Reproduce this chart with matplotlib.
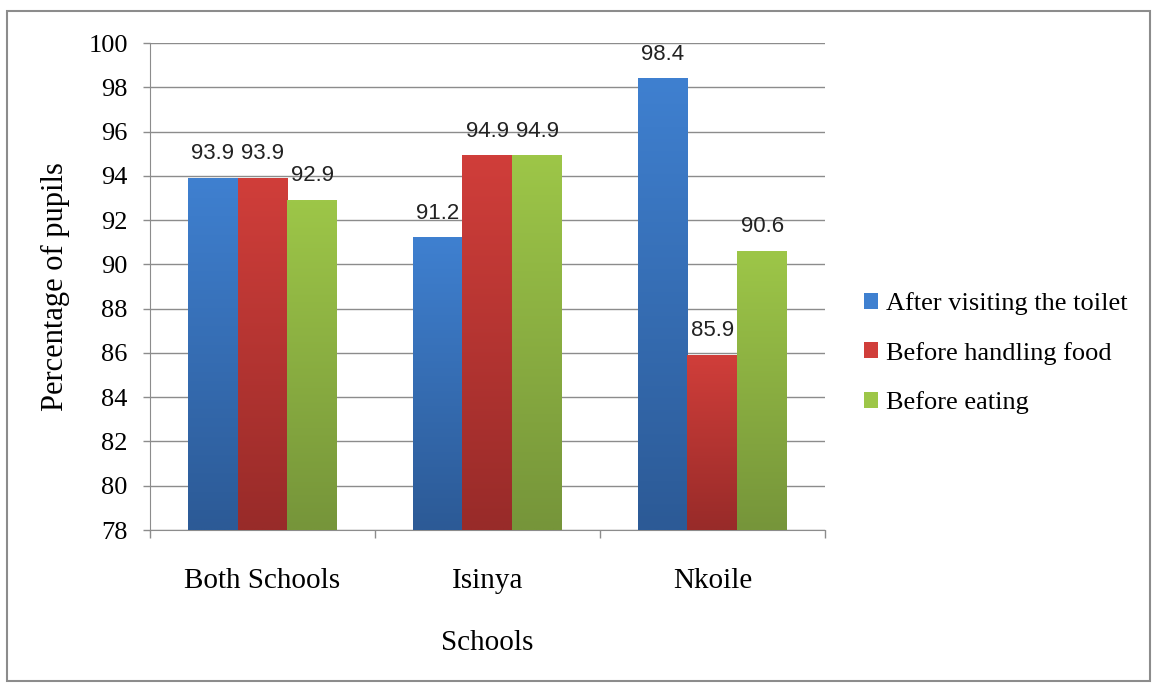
import matplotlib.pyplot as plt
import matplotlib.colors as mcolors
from matplotlib.patches import Rectangle
import numpy as np

# data
schools = ['Both Schools', 'Isinya', 'Nkoile']
series = ['After visiting the toilet', 'Before handling food', 'Before eating']
after_toilet = [93.9, 91.2, 98.4]
before_food = [93.9, 94.9, 85.9]
before_eating = [92.9, 94.9, 90.6]

# gradient colours (top, bottom) per series
top_colors = ['#3F80D0', '#D03E3A', '#9DC648']
bottom_colors = ['#2C5A96', '#982B29', '#76953A']

plt.rcParams['font.family'] = ['Liberation Serif', 'DejaVu Serif']

fig = plt.figure(figsize=(11.52, 6.83), dpi=100)
ax = fig.add_axes([0.1302, 0.224, 0.5859, 0.713])

# outer chart border
fig.patches.append(Rectangle((0.006, 0.003), 0.992, 0.981, transform=fig.transFigure,
                             fill=False, edgecolor='#8C8C8C', linewidth=1.5))

ymin = 78
width = 0.222
x = np.arange(len(schools))
values = [after_toilet, before_food, before_eating]


def gradient_bar(ax, rect, c_top, c_bot):
    x0, y0 = rect.get_x(), rect.get_y()
    w, h = rect.get_width(), rect.get_height()
    t = np.array(mcolors.to_rgb(c_top))
    b = np.array(mcolors.to_rgb(c_bot))
    f = np.linspace(0, 1, 100)[:, None]
    img = (t * (1 - f) + b * f)[:, None, :]
    ax.imshow(img, extent=[x0, x0 + w, y0, y0 + h], aspect='auto',
              origin='upper', zorder=3, interpolation='bilinear')


handles = []
for i, vals in enumerate(values):
    heights = [v - ymin for v in vals]
    bars = ax.bar(x + (i - 1) * width, heights, width, bottom=ymin,
                  color=top_colors[i], label=series[i], zorder=2)
    handles.append(bars)
    for rect, v in zip(bars, vals):
        gradient_bar(ax, rect, top_colors[i], bottom_colors[i])
        ax.annotate(f'{v}', (rect.get_x() + rect.get_width() / 2, v),
                    xytext=(0, 10), textcoords='offset points',
                    ha='center', va='bottom', fontsize=16,
                    family='Liberation Sans', color='#222222')

ax.set_xlim(-0.5, 2.5)
ax.set_ylim(78, 100)
ax.set_yticks(range(78, 101, 2))
ax.yaxis.grid(True, color='#8C8C8C', linewidth=1)
ax.set_axisbelow(True)

ax.set_xticks(x)
ax.set_xticklabels(schools, fontsize=21)
ax.set_xticks([-0.5, 0.5, 1.5, 2.5], minor=True)
ax.tick_params(axis='x', which='major', length=0, pad=27)
ax.tick_params(axis='x', which='minor', length=6, color='#8C8C8C', width=1)
ax.tick_params(axis='y', length=5, color='#8C8C8C', width=1, pad=11, labelsize=19)

for s in ['top', 'right']:
    ax.spines[s].set_visible(False)
for s in ['left', 'bottom']:
    ax.spines[s].set_color('#8C8C8C')

ax.set_xlabel('Schools', fontsize=21)
ax.xaxis.set_label_coords(0.5, -0.205)
ax.set_ylabel('Percentage of pupils', fontsize=22)
ax.yaxis.set_label_coords(-0.118, 0.5)

leg = fig.legend(handles=handles, labels=series, loc='center left',
                 bbox_to_anchor=(0.729, 0.483), frameon=False, fontsize=19,
                 handlelength=0.55, handleheight=0.55, handletextpad=0.3,
                 labelspacing=1.0)

fig.savefig('out.png', dpi=100)
